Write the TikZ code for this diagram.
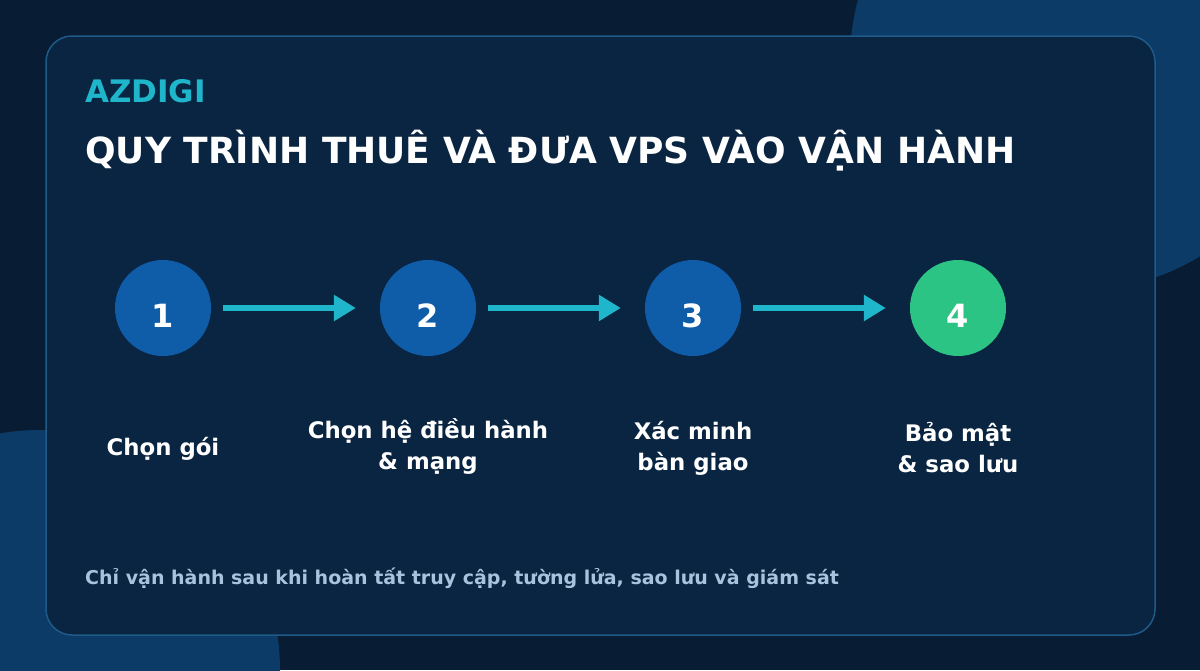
\documentclass[tikz,border=0pt]{standalone}
\usepackage{fontspec}
\setmainfont{DejaVu Sans}
\usetikzlibrary{arrows.meta}
\definecolor{bgc}{HTML}{081C34}
\definecolor{cardc}{HTML}{0A2541}
\definecolor{cardb}{HTML}{1F5A88}
\definecolor{decoc}{HTML}{0B3B66}
\definecolor{stepblue}{HTML}{0F5CA8}
\definecolor{stepgreen}{HTML}{2BC485}
\definecolor{cyanc}{HTML}{1FB6CC}
\definecolor{footc}{HTML}{A8C3DD}
\tikzset{
  stepc/.style={circle, minimum size=96pt, inner sep=0pt, fill=stepblue},
  num/.style={text=white, font=\fontsize{32}{38}\selectfont\bfseries, anchor=base, inner sep=0pt},
  lab/.style={text=white, font=\fontsize{22.8}{30.5}\selectfont\bfseries, align=center, anchor=base, inner sep=0pt},
  arr/.style={draw=cyanc, line width=6pt, shorten <=12pt, shorten >=24pt, -{Triangle[length=22pt,width=25pt]}},
}
\begin{document}
\begin{tikzpicture}[x=1pt,y=-1pt]
\useasboundingbox (0,0) rectangle (1200,670);
\fill[bgc] (0,0) rectangle (1200,670);
\begin{scope}
\clip (0,0) rectangle (1200,670);
\fill[decoc] (1080,60) circle (230);
\fill[decoc] (40,670) circle (240);
\end{scope}
\draw[cardb, line width=1.5pt, fill=cardc, rounded corners=26pt] (46,36) rectangle (1155,635);
\node[anchor=base west, inner sep=0pt, text=cyanc, font=\fontsize{31}{36}\selectfont\bfseries] (brand) at (85,102) {AZDIGI};
\node[anchor=base west, inner sep=0pt, text=white, font=\fontsize{36}{42}\selectfont\bfseries] (title) at (85,163) {QUY TRÌNH THUÊ VÀ ĐƯA VPS VÀO VẬN HÀNH};
\node[stepc] (c1) at (163,308) {};
\node[stepc] (c2) at (428,308) {};
\node[stepc] (c3) at (693,308) {};
\node[stepc, fill=stepgreen] (c4) at (958,308) {};
\node[num] (n1) at (163,327) {1};
\node[num] (n2) at (428,327) {2};
\node[num] (n3) at (693,327) {3};
\node[num] (n4) at (958,327) {4};
\draw[arr] (c1) -- (c2);
\draw[arr] (c2) -- (c3);
\draw[arr] (c3) -- (c4);
\node[lab] (l1) at (163,455) {Chọn gói};
\node[lab] (l2) at (428,469) {Chọn hệ điều hành\\\& mạng};
\node[lab] (l3) at (693,470) {Xác minh\\bàn giao};
\node[lab] (l4) at (958,472) {Bảo mật\\\& sao lưu};
\node[anchor=base west, inner sep=0pt, text=footc, font=\fontsize{19}{22}\selectfont\bfseries] (foot) at (85,584) {Chỉ vận hành sau khi hoàn tất truy cập, tường lửa, sao lưu và giám sát};
\end{tikzpicture}
\end{document}
